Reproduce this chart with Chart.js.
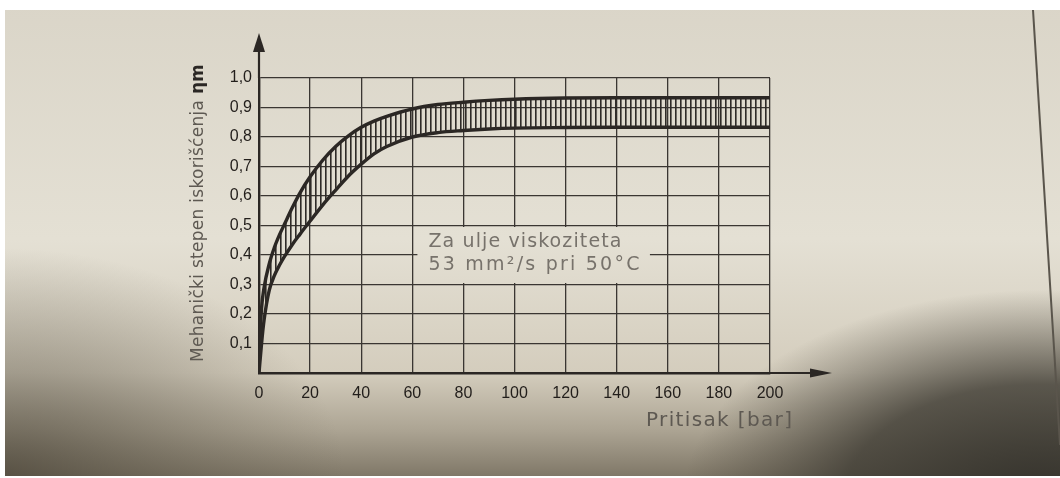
<!DOCTYPE html>
<html>
<head>
<meta charset="utf-8">
<script src="https://cdn.jsdelivr.net/npm/chart.js@4.4.1/dist/chart.umd.min.js"></script>
<style>
html, body { margin: 0; padding: 0; background: #fff; overflow: hidden; }
</style>
</head>
<body>
<canvas id="plot" width="1060" height="478"></canvas>
<script>
// pressure in bar, efficiency
var pressure = [0, 1, 2, 4, 6, 8, 10, 13, 16, 20, 25, 30, 35, 40, 45, 50, 60, 70, 80, 90, 100, 120, 140, 160, 180, 200];
var etaUpper = [0.06, 0.22, 0.29, 0.37, 0.425, 0.468, 0.505, 0.56, 0.61, 0.665, 0.722, 0.768, 0.804, 0.833, 0.854, 0.87, 0.895, 0.91, 0.918, 0.924, 0.928, 0.932, 0.933, 0.933, 0.933, 0.933];
var etaLower = [0.0, 0.1, 0.18, 0.28, 0.33, 0.365, 0.395, 0.435, 0.47, 0.515, 0.57, 0.62, 0.668, 0.708, 0.743, 0.768, 0.8, 0.815, 0.822, 0.827, 0.83, 0.832, 0.833, 0.833, 0.833, 0.833];

var xTitle = "Pritisak [bar]";
var yTitle = "Mehanički stepen iskorišćenja";
var ySymbol = "ηm";
var noteLines = ["Za ulje viskoziteta", "53 mm²/s pri 50°C"];
var noteBox = {x0: 62, x1: 153, y0: 0.3, y1: 0.5};

var ink = "#2b2724";

function paintPaper(ctx, w, h) {
    var g = ctx.createLinearGradient(0, 0, 0, h);
    g.addColorStop(0, "#dad5c8");
    g.addColorStop(0.5, "#e4e0d4");
    g.addColorStop(0.78, "#d4cdbd");
    g.addColorStop(0.9, "#aca493");
    g.addColorStop(1, "#7e7666");
    ctx.fillStyle = g;
    ctx.fillRect(0, 0, w, h);

    // shadow bottom right
    ctx.save();
    ctx.translate(1040, 500);
    ctx.scale(1.7, 1);
    var r = ctx.createRadialGradient(0, 0, 0, 0, 0, 210);
    r.addColorStop(0, "rgba(50,48,42,0.97)");
    r.addColorStop(0.55, "rgba(62,59,51,0.8)");
    r.addColorStop(1, "rgba(80,75,64,0)");
    ctx.fillStyle = r;
    ctx.fillRect(-700, -300, 1400, 600);
    ctx.restore();

    // shadow bottom left
    ctx.save();
    ctx.translate(0, 478);
    ctx.scale(1.5, 1);
    var l = ctx.createRadialGradient(0, 0, 0, 0, 0, 230);
    l.addColorStop(0, "rgba(70,64,52,0.7)");
    l.addColorStop(1, "rgba(90,84,70,0)");
    ctx.fillStyle = l;
    ctx.fillRect(-400, -300, 800, 600);
    ctx.restore();
}

function spacedText(ctx, text, x, y, width) {
    ctx.letterSpacing = "0px";
    var w = ctx.measureText(text).width;
    var sp = (width - w) / Math.max(1, text.length - 1);
    ctx.letterSpacing = sp.toFixed(2) + "px";
    ctx.fillText(text, x, y);
    ctx.letterSpacing = "0px";
}

var paperPlugin = {
    id: "paper",
    beforeDraw: function(chart) {
        paintPaper(chart.ctx, chart.width, chart.height);
    },
    beforeDatasetsDraw: function(chart) {
        var ctx = chart.ctx;
        var xs = chart.scales.x, ys = chart.scales.y;
        var left = xs.getPixelForValue(noteBox.x0);
        var right = xs.getPixelForValue(noteBox.x1);
        var top = ys.getPixelForValue(noteBox.y1) + 1.5;
        var bottom = ys.getPixelForValue(noteBox.y0) - 1.5;
        ctx.save();
        ctx.beginPath();
        ctx.rect(left, top, right - left, bottom - top);
        ctx.clip();
        paintPaper(ctx, chart.width, chart.height);
        ctx.restore();

        ctx.save();
        ctx.fillStyle = "#77726b";
        ctx.font = "19px 'DejaVu Sans'";
        ctx.textBaseline = "alphabetic";
        spacedText(ctx, noteLines[0], left + 11, top + 20, 193);
        spacedText(ctx, noteLines[1], left + 11, top + 43, 211);
        ctx.restore();
    },
    afterDraw: function(chart) {
        var ctx = chart.ctx;
        var a = chart.chartArea;
        ctx.save();
        ctx.strokeStyle = ink;
        ctx.fillStyle = ink;
        ctx.lineWidth = 2.2;
        // axis extensions with arrows
        ctx.beginPath();
        ctx.moveTo(a.left, a.top);
        ctx.lineTo(a.left, 48);
        ctx.moveTo(a.right, a.bottom);
        ctx.lineTo(816, a.bottom);
        ctx.stroke();
        ctx.beginPath();
        ctx.moveTo(a.left, 33);
        ctx.lineTo(a.left - 6, 52);
        ctx.lineTo(a.left + 6, 52);
        ctx.closePath();
        ctx.fill();
        ctx.beginPath();
        ctx.moveTo(832, a.bottom);
        ctx.lineTo(810, a.bottom - 4.5);
        ctx.lineTo(810, a.bottom + 4.5);
        ctx.closePath();
        ctx.fill();

        // axis titles
        ctx.fillStyle = "#5e5952";
        ctx.font = "20px 'DejaVu Sans'";
        ctx.textBaseline = "alphabetic";
        spacedText(ctx, xTitle, 646, 426, 146);

        ctx.font = "17px 'DejaVu Sans'";
        ctx.save();
        ctx.translate(203, 362);
        ctx.rotate(-Math.PI / 2);
        spacedText(ctx, yTitle, 0, 0, 262);
        ctx.fillStyle = ink;
        ctx.font = "bold 17px 'DejaVu Sans'";
        ctx.fillText(ySymbol, 268, 0);
        ctx.restore();

        // page edge on the right
        ctx.strokeStyle = "#5a554c";
        ctx.lineWidth = 2;
        ctx.beginPath();
        ctx.moveTo(1033, 10);
        ctx.lineTo(1060, 445);
        ctx.stroke();

        // white photo border
        ctx.fillStyle = "#ffffff";
        ctx.fillRect(0, 0, chart.width, 10);
        ctx.fillRect(0, 0, 5, chart.height);
        ctx.fillRect(0, chart.height - 2, chart.width, 2);
        ctx.restore();
    }
};

function makeHatch() {
    var c = document.createElement("canvas");
    c.width = 5;
    c.height = 8;
    var g = c.getContext("2d");
    g.fillStyle = "#2e2a27";
    g.fillRect(0, 0, 1.6, 8);
    return g.createPattern(c, "repeat");
}

var chart;
function createChart(canvas) {
    chart = new Chart(canvas, {
        type: "line",
        data: {
            datasets: [
            {
                label: "upper",
                data: pressure.map((x, i) => { return {x: x, y: etaUpper[i]} }),
                borderColor: ink,
                borderWidth: 3.4,
                pointRadius: 0,
                cubicInterpolationMode: "monotone",
                fill: "+1",
                backgroundColor: makeHatch(),
            },
            {
                label: "lower",
                data: pressure.map((x, i) => { return {x: x, y: etaLower[i]} }),
                borderColor: ink,
                borderWidth: 3.4,
                pointRadius: 0,
                cubicInterpolationMode: "monotone",
                fill: false,
            },
            ]
        },
        options: {
            responsive: false,
            animation: false,
            devicePixelRatio: 1,
            layout: {
                padding: {left: 180, right: 290, top: 78, bottom: 65}
            },
            scales: {
                x: {
                    type: "linear",
                    min: 0,
                    max: 200,
                    afterFit: function(s) { s.height = 40; },
                    grid: {color: "#3a3632", lineWidth: 1.3, drawTicks: false},
                    border: {color: ink, width: 2.4},
                    ticks: {
                        stepSize: 20,
                        padding: 11,
                        color: "#221e1b",
                        font: {family: "'Liberation Sans'", size: 16},
                        maxRotation: 0,
                    }
                },
                y: {
                    min: 0,
                    max: 1,
                    afterFit: function(s) { s.width = 79; },
                    grid: {color: "#3a3632", lineWidth: 1.3, drawTicks: false},
                    border: {color: ink, width: 2.4},
                    ticks: {
                        stepSize: 0.1,
                        padding: 7,
                        color: "#221e1b",
                        font: {family: "'Liberation Sans'", size: 16},
                        callback: function(v) {
                            if (Math.abs(v) < 1e-9) return "";
                            return v.toFixed(1).replace(".", ",");
                        }
                    }
                }
            },
            plugins: {
                legend: {display: false},
                tooltip: {enabled: false},
            }
        },
        plugins: [paperPlugin]
    });
}

window.addEventListener("load", function() {
    createChart(document.getElementById("plot"));
});
</script>
</body>
</html>
